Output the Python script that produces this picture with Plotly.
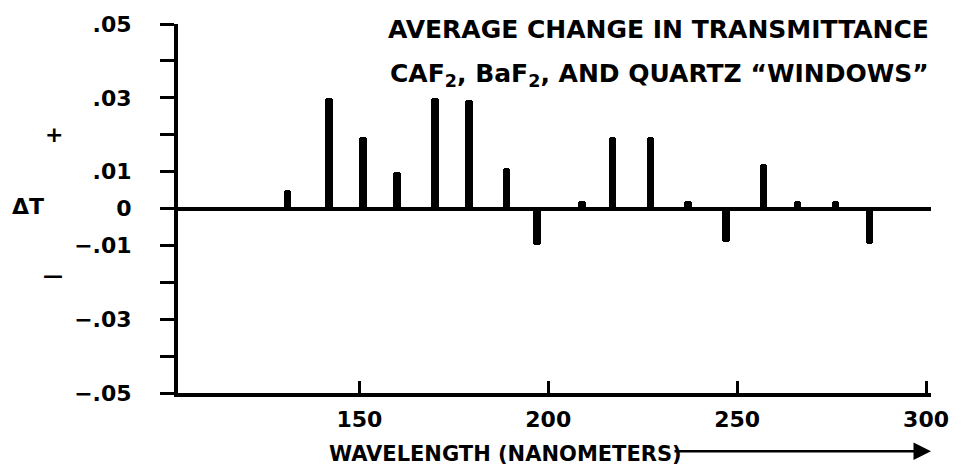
import plotly.graph_objects as go

# Data
wavelength_nm = [131, 142, 151, 160, 170, 179, 189, 197, 209, 217, 227, 237, 247, 257, 266, 276, 285]
delta_t = [0.005, 0.030, 0.0195, 0.010, 0.030, 0.0295, 0.011, -0.010, 0.002, 0.0195, 0.0195,
           0.002, -0.009, 0.012, 0.002, 0.002, -0.0095]

y_tick_vals = [-0.05, -0.03, -0.01, 0, 0.01, 0.03, 0.05]
y_tick_text = ["\u2212.05", "\u2212.03", "\u2212.01", "0", ".01", ".03", ".05"]
y_minor_vals = [-0.04, -0.02, 0.02, 0.04]
x_tick_vals = [150, 200, 250, 300]
x_tick_text = ["150", "200", "250", "300"]

FONT = "DejaVu Sans"

fig = go.Figure()
fig.add_trace(go.Bar(
    x=wavelength_nm, y=delta_t, width=2.0,
    marker=dict(color="black", line=dict(width=0), cornerradius=3),
    showlegend=False,
))

fig.update_layout(
    width=961, height=468,
    margin=dict(l=178, r=26, t=20, b=75),
    paper_bgcolor="white", plot_bgcolor="white",
    font=dict(family=FONT, color="black"),
    bargap=0,
)
fig.update_xaxes(
    range=[102, 301.3], showgrid=False, zeroline=False,
    showline=True, linecolor="black", linewidth=4,
    tickmode="array", tickvals=x_tick_vals, ticktext=x_tick_text,
    ticks="inside", ticklen=12, tickwidth=3, tickcolor="black",
    ticklabelstandoff=4,
    tickfont=dict(family=FONT, size=22, weight="bold", color="black"),
)
fig.update_yaxes(
    range=[-0.05, 0.05], showgrid=False,
    zeroline=True, zerolinecolor="black", zerolinewidth=4,
    showline=True, linecolor="black", linewidth=4,
    tickmode="array", tickvals=y_tick_vals, ticktext=y_tick_text,
    ticks="outside", ticklen=14, tickwidth=3, tickcolor="black",
    minor=dict(tickmode="array", tickvals=y_minor_vals, ticks="outside",
               ticklen=14, tickwidth=3, tickcolor="black", showgrid=False),
    ticklabelstandoff=24,
    tickfont=dict(family=FONT, size=22, weight="bold", color="black"),
)

ann_font = dict(family=FONT, size=25, weight="bold", color="black")
fig.add_annotation(xref="paper", yref="paper", x=1.0, y=(393 - 26) / 373,
                   text="AVERAGE CHANGE IN TRANSMITTANCE", showarrow=False,
                   xanchor="right", yanchor="middle", font=ann_font)
fig.add_annotation(xref="paper", yref="paper", x=1.0, y=(393 - 72) / 373,
                   text="CAF<sub>2</sub>, BaF<sub>2</sub>, AND QUARTZ \u201cWINDOWS\u201d", showarrow=False,
                   xanchor="right", yanchor="middle", font=ann_font)
# x-axis title with arrow
fig.add_annotation(xref="paper", yref="paper", x=(328 - 178) / 757, y=(393 - 455) / 373,
                   text="WAVELENGTH (NANOMETERS)", showarrow=False,
                   xanchor="left", yanchor="middle",
                   font=dict(family=FONT, size=21, weight="bold", color="black"))
fig.add_annotation(xref="paper", yref="paper", x=1.0, y=(393 - 452) / 373,
                   ax=-258, ay=0, axref="pixel", ayref="pixel", text="",
                   showarrow=True, arrowhead=2, arrowsize=1.4, arrowwidth=2.5, arrowcolor="black")
# side labels
side_font = dict(family=FONT, size=22, weight="bold", color="black")
fig.add_annotation(xref="paper", yref="paper", x=(27 - 178) / 757, y=(393 - 204) / 373,
                   text="\u0394T", showarrow=False, xanchor="center", yanchor="middle", font=side_font)
fig.add_annotation(xref="paper", yref="paper", x=(53 - 178) / 757, y=(393 - 132) / 373,
                   text="+", showarrow=False, xanchor="center", yanchor="middle", font=side_font)
fig.add_annotation(xref="paper", yref="paper", x=(52 - 178) / 757, y=(393 - 274) / 373,
                   text="\u2014", showarrow=False, xanchor="center", yanchor="middle",
                   font=dict(family=FONT, size=20, weight="bold", color="black"))

fig.write_html("out.html")
